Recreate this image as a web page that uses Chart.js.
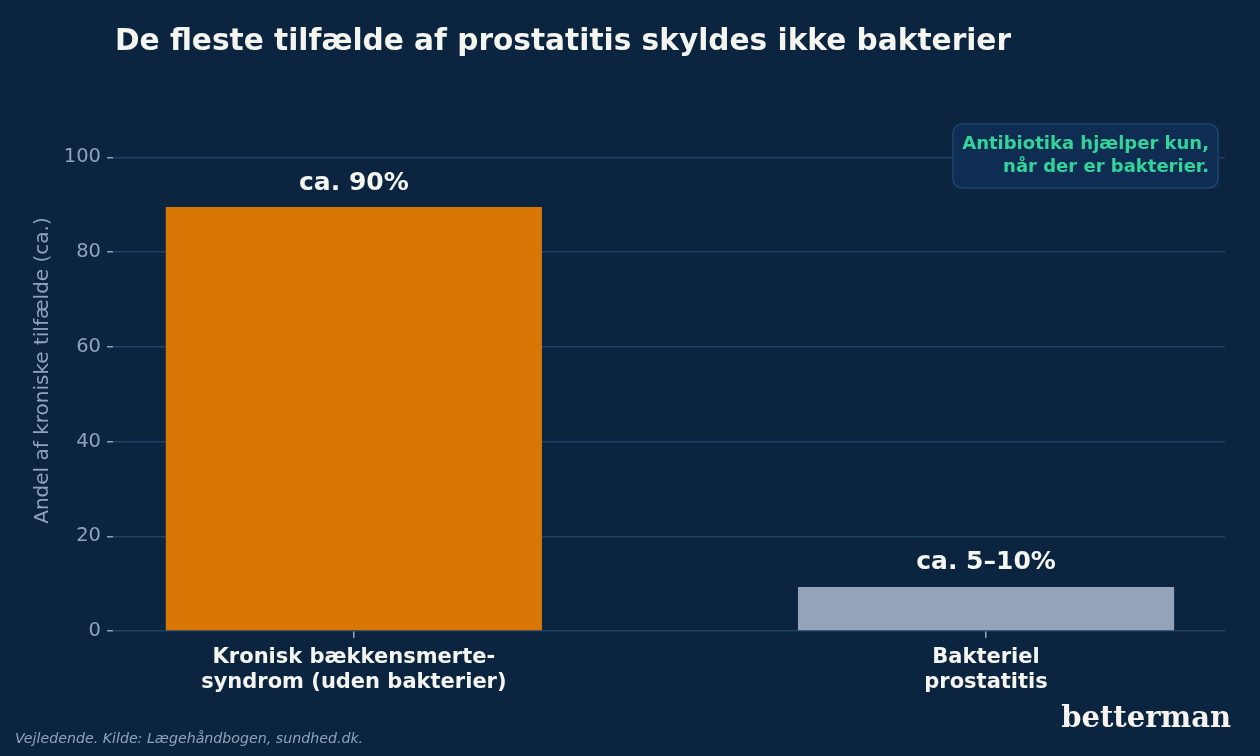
<!DOCTYPE html>
<html><head><meta charset="utf-8">
<script src="https://cdn.jsdelivr.net/npm/chart.js@4.4.1/dist/chart.umd.min.js"></script>
<style>html,body{margin:0;padding:0;background:#0b2540;}#wrap{width:1260px;height:756px;position:relative;}</style>
</head><body><div id="wrap"><canvas id="c" width="1260" height="756"></canvas></div>
<script>
const categories = [["Kronisk bækkensmerte-","syndrom (uden bakterier)"],["Bakteriel","prostatitis"]];
const values = [89.5, 9.3];
const valueLabels = ["ca. 90%","ca. 5–10%"];
const barColors = ["#d97706","#94a3b8"];
const yTicks = [0,20,40,60,80,100];
const titleText = "De fleste tilfælde af prostatitis skyldes ikke bakterier";
const yTitle = "Andel af kroniske tilfælde (ca.)";
const noteLines = ["Antibiotika hjælper kun,","når der er bakterier."];
const sourceText = "Vejledende. Kilde: Lægehåndbogen, sundhed.dk.";
const brandText = "betterman";

const FONT = "'DejaVu Sans', sans-serif";
const bg = {id:'bg', beforeDraw(ch){const c=ch.ctx;c.save();c.fillStyle='#0b2540';c.fillRect(0,0,ch.width,ch.height);c.restore();}};
const deco = {id:'deco', afterDraw(ch){
  const c=ch.ctx; c.save();
  c.fillStyle='#f5f5f0'; c.font='bold 29.6px '+FONT; c.textAlign='left'; c.textBaseline='middle';
  c.fillText(titleText,115,42);
  const meta=ch.getDatasetMeta(0);
  c.font='bold 25px '+FONT; c.textAlign='center'; c.textBaseline='middle';
  meta.data.forEach((b,i)=>{c.fillText(valueLabels[i],b.x,b.y-24);});
  const bx=953,by=124,bw=265,bh=64,r=9;
  c.beginPath(); c.roundRect(bx,by,bw,bh,r); c.fillStyle='#0f2d52'; c.fill();
  c.lineWidth=1.5; c.strokeStyle='#1f4470'; c.stroke();
  c.fillStyle='#34d399'; c.font='bold 18px '+FONT; c.textAlign='right';
  c.fillText(noteLines[0],1209,144); c.fillText(noteLines[1],1209,167);
  c.fillStyle='#8fa3bd'; c.font='italic 14.2px '+FONT; c.textAlign='left';
  c.fillText(sourceText,15,739);
  c.fillStyle='#f7f3ee'; c.font='bold 29px "DejaVu Serif", serif'; c.textAlign='right';
  c.fillText(brandText,1231,719);
  c.restore();
}};

new Chart(document.getElementById('c'),{
  type:'bar',
  data:{datasets:[{data:values.map((v,i)=>({x:i,y:v})),backgroundColor:barColors,borderWidth:0,barPercentage:0.595,categoryPercentage:1}]},
  options:{
    responsive:false,animation:false,devicePixelRatio:1,
    layout:{padding:{top:110,right:35,left:0,bottom:0}},
    plugins:{legend:{display:false},tooltip:{enabled:false}},
    scales:{
      x:{type:'linear',min:-0.381,max:1.378,offset:false,
        afterBuildTicks(a){a.ticks=[{value:0},{value:1}];},
        afterFit(a){a.height=125;},
        border:{display:false},
        grid:{offset:false,drawOnChartArea:false,drawTicks:true,tickLength:7,tickColor:'#8fa3bd',lineWidth:1.5},
        ticks:{autoSkip:false,maxRotation:0,padding:7,color:'#f5f5f0',font:{family:FONT,size:21,weight:'bold',lineHeight:1.2},
          callback:(v)=>categories[v]}
      },
      y:{min:0,max:110,
        afterBuildTicks(a){a.ticks=yTicks.map(v=>({value:v}));},
        afterFit(a){a.width=113;},
        border:{display:false},
        grid:{color:'#1e4166',lineWidth:1.5,drawTicks:true,tickLength:6,tickColor:'#8fa3bd'},
        ticks:{color:'#8fa3bd',padding:6,font:{family:FONT,size:19.5}},
        title:{display:true,text:yTitle,color:'#8fa3bd',font:{family:FONT,size:20},padding:{top:31,bottom:0}}
      }
    }
  },
  plugins:[bg,deco]
});
</script></body></html>
